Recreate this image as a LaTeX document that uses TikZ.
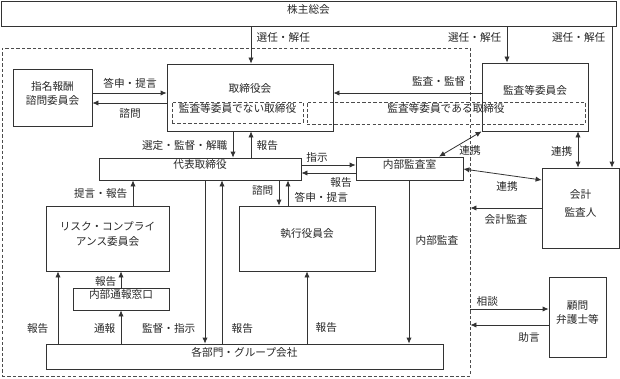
\documentclass[tikz,border=0pt]{standalone}
\usepackage{fontspec}
\setmainfont{Noto Sans CJK JP}
\usetikzlibrary{arrows.meta,fit}
\begin{document}
\begin{tikzpicture}[x=0.75pt,y=-0.75pt,
  every node/.style={font=\fontsize{8}{10}\selectfont, text=black!85},
  box/.style={draw=black!80, line width=0.6pt, inner sep=0pt, align=center},
  dbox/.style={draw=black!70, line width=0.6pt, dash pattern=on 2.5pt off 1.6pt, inner sep=0pt},
  arr/.style={draw=black!80, line width=0.6pt, -{Latex[length=4.5pt,width=4pt]}},
  darr/.style={draw=black!80, line width=0.6pt, {Latex[length=4.5pt,width=4pt]}-{Latex[length=4.5pt,width=4pt]}},
  lbl/.style={inner sep=1pt},
]
\useasboundingbox (0,0) rectangle (620,378);
% frames and boxes
\node[dbox, fit={(2,48)(470,376)}] (grp) {};
\node[box, fit={(1,1)(616,26)}] (agm) {株主総会};
\node[box, fit={(167,64)(333,131)}] (tori) {};
\node[lbl] (toriT) at (250,88) {取締役会};
\node[box, fit={(482,63)(588,131)}] (kansa) {};
\node[lbl] (kansaT) at (535,90) {監査等委員会};
\node[dbox, fit={(172,102)(303,123)}] (notaud) {監査等委員でない取締役};
\node[dbox, fit={(307,102)(585,124)}] (isaud) {監査等委員である取締役};
\node[box, fit={(13,69)(92,126)}, font=\fontsize{8}{10.5}\selectfont] (shimei) {指名報酬\\諮問委員会};
\node[box, fit={(542,168)(619,248)}, font=\fontsize{8}{13}\selectfont] (kaikei) {会計\\監査人};
\node[box, fit={(356,157)(463,180)}] (naibu) {内部監査室};
\node[box, fit={(99,158)(301,180)}] (daihyo) {代表取締役};
\node[box, fit={(239,206)(375,271)}] (shikko) {執行役員会};
\node[box, fit={(46,206)(169,271)}, font=\fontsize{8}{11.5}\selectfont] (risk) {リスク・コンプライ\\アンス委員会};
\node[box, fit={(73,288)(169,310)}] (tsuho) {内部通報窓口};
\node[box, fit={(46,344)(443,369)}] (bumon) {各部門・グループ会社};
\node[box, fit={(549,277)(606,357)}] (komon) {顧問\\弁護士等};
% shareholders
\draw[arr] (agm.south -| 251,0) -- (tori.north -| 251,0);
\node[lbl, anchor=west] (l1) at (255,37) {選任・解任};
\draw[arr] (agm.south -| 507,0) -- (kansa.north -| 507,0);
\node[lbl, anchor=east] (l2) at (503,37) {選任・解任};
\draw[arr] (agm.south -| 612,0) -- (kaikei.north -| 612,0);
\node[lbl, anchor=east] (l3) at (607,37) {選任・解任};
% audit committee
\draw[arr] (kansa.west |- 0,93) -- (tori.east |- 0,93);
\node[lbl, anchor=east] (l4) at (467,81) {監査・監督};
\draw[darr] (kansa.south -| 578,0) -- (kaikei.north -| 578,0);
\node[lbl, anchor=east] (l5) at (574,151) {連携};
% nomination committee
\draw[arr] (shimei.east |- 0,93) -- (tori.west |- 0,93);
\node[lbl] (l6) at (130,83) {答申・提言};
\draw[arr] (tori.west |- 0,103) -- (shimei.east |- 0,103);
\node[lbl] (l7) at (130,113) {諮問};
% board - representative
\draw[arr] (tori.south -| 233,0) -- (daihyo.north -| 233,0);
\node[lbl, anchor=east] (l8) at (229,145) {選定・監督・解職};
\draw[arr] (daihyo.north -| 251,0) -- (tori.south -| 251,0);
\node[lbl, anchor=west] (l9) at (255,145) {報告};
% representative - internal audit
\draw[arr] (daihyo.east |- 0,165) -- (naibu.west |- 0,165);
\node[lbl] (l10) at (317,157) {指示};
\draw[arr] (naibu.west |- 0,173) -- (daihyo.east |- 0,173);
\node[lbl] (l11) at (341,182) {報告};
% internal audit links
\draw[darr] (naibu.north -| 439,0) -- (kansa.south west);
\node[lbl] (l12) at (470,150) {連携};
\draw[darr] (naibu.east |- 0,169) -- (kaikei.west |- 0,180);
\node[lbl] (l13) at (507,186) {連携};
\draw[arr] (kaikei.west |- 0,208) -- (grp.east |- 0,208);
\node[lbl] (l14) at (506,219) {会計監査};
\draw[arr] (naibu.south -| 409,0) -- (bumon.north -| 409,0);
\node[lbl, anchor=west] (l15) at (414,240) {内部監査};
% executive committee
\draw[arr] (daihyo.south -| 279,0) -- (shikko.north -| 279,0);
\node[lbl, anchor=east] (l16) at (275,190) {諮問};
\draw[arr] (shikko.north -| 288,0) -- (daihyo.south -| 288,0);
\node[lbl, anchor=west] (l17) at (293,197) {答申・提言};
% risk committee
\draw[arr] (risk.north -| 133,0) -- (daihyo.south -| 133,0);
\node[lbl, anchor=east] (l18) at (129,193) {提言・報告};
\draw[arr] (tsuho.north -| 121,0) -- (risk.south -| 121,0);
\node[lbl, anchor=east] (l19) at (118,281) {報告};
\draw[arr] (bumon.north -| 121,0) -- (tsuho.south -| 121,0);
\node[lbl, anchor=east] (l20) at (117,328) {通報};
\draw[arr] (bumon.north -| 58,0) -- (risk.south -| 58,0);
\node[lbl, anchor=east] (l21) at (50,328) {報告};
% representative - departments
\draw[arr] (daihyo.south -| 205,0) -- (bumon.north -| 205,0);
\node[lbl, anchor=east] (l22) at (197,328) {監督・指示};
\draw[arr] (bumon.north -| 222,0) -- (daihyo.south -| 222,0);
\node[lbl, anchor=west] (l23) at (230,328) {報告};
\draw[arr] (bumon.north -| 307,0) -- (shikko.south -| 307,0);
\node[lbl, anchor=west] (l24) at (314,327) {報告};
% advisers
\draw[arr] (grp.east |- 0,309) -- (komon.west |- 0,309);
\node[lbl, anchor=west] (l25) at (475,301) {相談};
\draw[arr] (komon.west |- 0,325) -- (grp.east |- 0,325);
\node[lbl] (l26) at (529,337) {助言};
\end{tikzpicture}
\end{document}
